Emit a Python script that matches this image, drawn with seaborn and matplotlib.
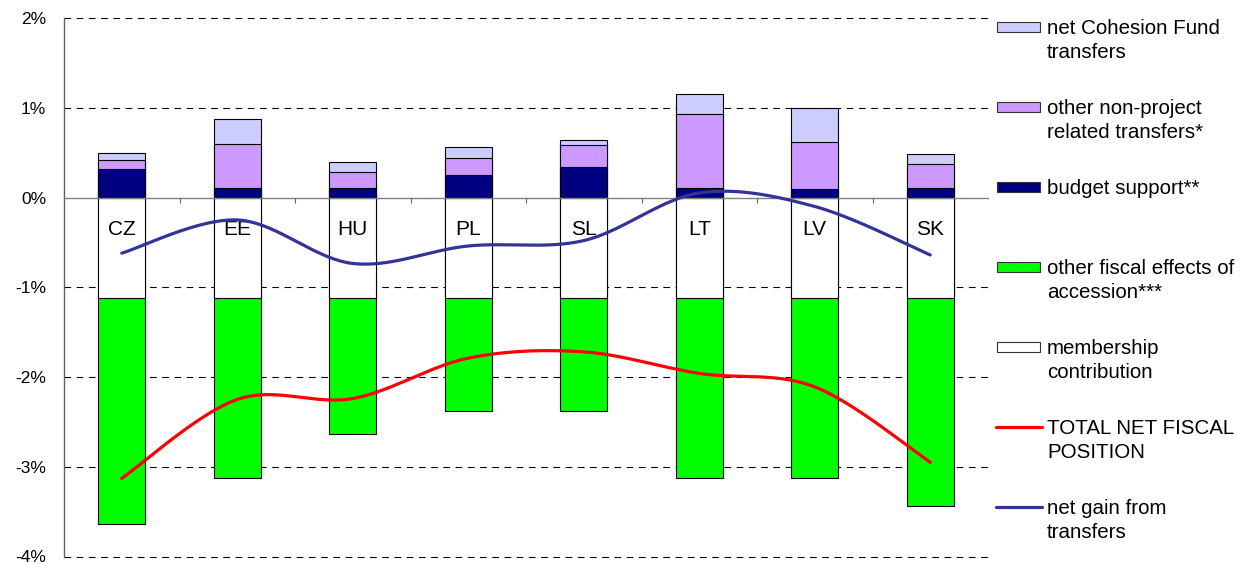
import numpy as np
import pandas as pd
import matplotlib
matplotlib.use("Agg")
import matplotlib.pyplot as plt
from matplotlib.patches import Rectangle
from matplotlib.lines import Line2D
import seaborn as sns

# values in % of GDP
countries = ["CZ", "EE", "HU", "PL", "SL", "LT", "LV", "SK"]
budget_support = [0.32, 0.11, 0.11, 0.25, 0.34, 0.11, 0.09, 0.11]
other_non_project = [0.10, 0.49, 0.175, 0.19, 0.246, 0.82, 0.53, 0.265]
cohesion_fund = [0.075, 0.27, 0.105, 0.125, 0.054, 0.227, 0.38, 0.11]
membership = [-1.12, -1.12, -1.12, -1.12, -1.12, -1.12, -1.12, -1.12]
other_fiscal = [-2.52, -2.01, -1.51, -1.26, -1.26, -2.01, -2.01, -2.32]
net_gain = [-0.62, -0.25, -0.735, -0.54, -0.48, 0.05, -0.10, -0.64]
total_net = [-3.13, -2.25, -2.24, -1.79, -1.72, -1.96, -2.11, -2.95]

yticks = [2, 1, 0, -1, -2, -3, -4]
ylabels = ["2%", "1%", "0%", "-1%", "-2%", "-3%", "-4%"]

c_cohesion = "#CCCCFF"
c_other = "#CC99FF"
c_budget = "#000080"
c_fiscal = "#00FF00"
c_member = "#FFFFFF"
c_total = "#FF0000"
c_gain = "#333399"


def smooth(y, n=40):
    # excel style smoothed line (catmull-rom as bezier)
    x = np.arange(len(y), dtype=float)
    p = np.column_stack([x, np.asarray(y, dtype=float)])
    p = np.vstack([p[0], p, p[-1]])
    out = []
    t = np.linspace(0, 1, n)[:, None]
    for i in range(1, len(p) - 2):
        p0, p3 = p[i], p[i + 1]
        p1 = p0 + (p[i + 1] - p[i - 1]) / 6
        p2 = p3 - (p[i + 2] - p[i]) / 6
        seg = ((1 - t) ** 3) * p0 + 3 * ((1 - t) ** 2) * t * p1 + 3 * (1 - t) * t ** 2 * p2 + t ** 3 * p3
        out.append(seg if i == 1 else seg[1:])
    out = np.vstack(out)
    return out[:, 0], out[:, 1]


sns.set_theme(style="white")
plt.rcParams['font.family'] = ['Liberation Sans', 'DejaVu Sans']

W, H = 1250, 564
fig = plt.figure(figsize=(12.5, 5.64), dpi=100)
ax = fig.add_axes([64 / W, 1 - 556.5 / H, (988 - 64) / W, (556.5 - 18) / H])

df = pd.DataFrame({"country": countries})
df["pos1"] = np.array(budget_support)
df["pos2"] = df["pos1"] + np.array(other_non_project)
df["pos3"] = df["pos2"] + np.array(cohesion_fund)
df["neg1"] = np.array(membership)
df["neg2"] = df["neg1"] + np.array(other_fiscal)

# stacked bars: draw the tallest first, then overlay
for col, color in [("pos3", c_cohesion), ("pos2", c_other), ("pos1", c_budget),
                   ("neg2", c_fiscal), ("neg1", c_member)]:
    sns.barplot(data=df, x="country", y=col, color=color, saturation=1,
                width=0.41, edgecolor="black", linewidth=0.8, errorbar=None,
                ax=ax, zorder=1)

xs, ys = smooth(total_net)
sns.lineplot(x=xs, y=ys, color=c_total, linewidth=2.3, sort=False,
             estimator=None, ax=ax, zorder=3)
xs, ys = smooth(net_gain)
sns.lineplot(x=xs, y=ys, color=c_gain, linewidth=2.3, sort=False,
             estimator=None, ax=ax, zorder=3)

ax.set_axisbelow(False)
ax.set_xlabel("")
ax.set_ylabel("")
ax.set_xlim(-0.5, len(countries) - 0.5)
ax.set_ylim(-4, 2)

for v in yticks:
    if v != 0:
        ax.axhline(v, color="black", lw=0.8, ls=(0, (6, 5)), zorder=0.5, clip_on=False)

ax.spines["top"].set_visible(False)
ax.spines["right"].set_visible(False)
ax.spines["bottom"].set_position(("data", 0))
ax.spines["bottom"].set_color("#808080")
ax.spines["bottom"].set_linewidth(1.0)
ax.spines["left"].set_color("#606060")
ax.spines["left"].set_linewidth(1.0)

ax.set_yticks(yticks)
ax.set_yticklabels(ylabels)
ax.tick_params(axis="y", length=4.3, width=0.8, direction="out", color="#606060",
               pad=8.5, labelsize=12.5, labelcolor="black")

ax.set_xticks(range(len(countries)))
ax.set_xticklabels(countries)
ax.set_xticks(np.arange(0.5, len(countries) - 1, 1), minor=True)
ax.tick_params(axis="x", which="major", length=0, pad=16, labelsize=15, labelcolor="black")
ax.tick_params(axis="x", which="minor", length=3.6, width=0.8, direction="out",
               color="#606060", bottom=True)

# legend drawn by hand so that the key lines up with the first text line
legend_items = [
    ("net Cohesion Fund\ntransfers", "patch", c_cohesion),
    ("other non-project\nrelated transfers*", "patch", c_other),
    ("budget support**", "patch", c_budget),
    ("other fiscal effects of\naccession***", "patch", c_fiscal),
    ("membership\ncontribution", "patch", c_member),
    ("TOTAL NET FISCAL\nPOSITION", "line", c_total),
    ("net gain from\ntransfers", "line", c_gain),
]
for i, (label, kind, color) in enumerate(legend_items):
    yc = 27 + 80 * i
    if kind == "patch":
        fig.add_artist(Rectangle((997 / W, 1 - (yc + 5) / H), 43 / W, 10 / H,
                                 transform=fig.transFigure, facecolor=color,
                                 edgecolor="#333333", linewidth=0.8))
    else:
        fig.add_artist(Line2D([996 / W, 1042 / W], [1 - yc / H, 1 - yc / H],
                              transform=fig.transFigure, color=color, linewidth=2.3))
    for j, line in enumerate(label.split("\n")):
        fig.text(1047 / W, 1 - (yc + 7.5 + 23 * j) / H, line, ha="left",
                 va="baseline", fontsize=14.8, color="black")

fig.savefig("out.png", dpi=100)
